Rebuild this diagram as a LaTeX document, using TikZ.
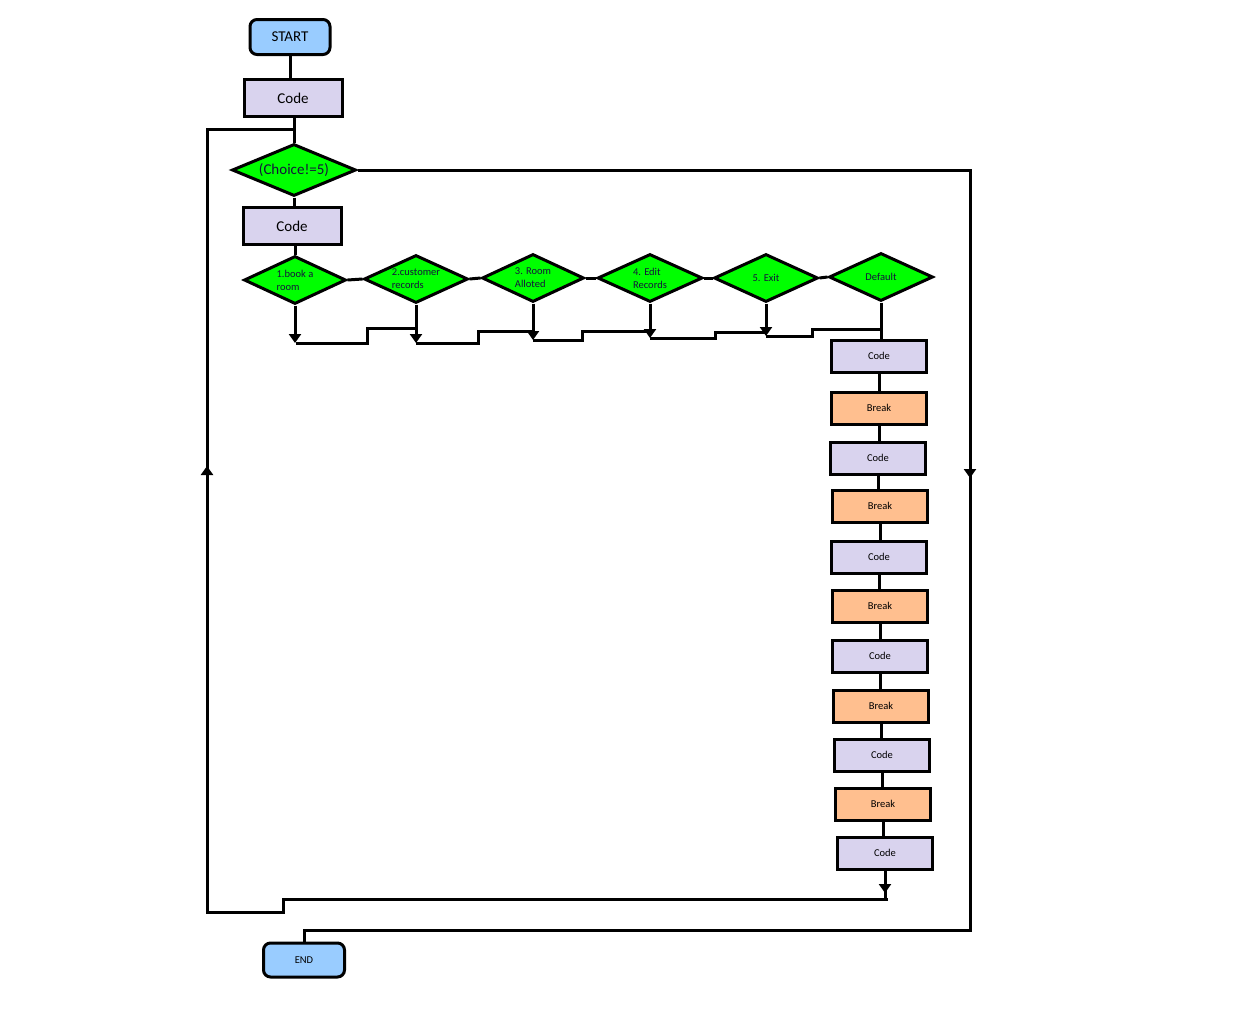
\documentclass[tikz,border=0pt]{standalone}
\usepackage{fontspec}
\setmainfont{Carlito}
\usetikzlibrary{shapes.geometric,arrows.meta}
\definecolor{termfill}{HTML}{99CCFF}
\definecolor{codefill}{HTML}{D9D3EE}
\definecolor{brkfill}{HTML}{FFBF8F}
\definecolor{decfill}{HTML}{00FF00}
\definecolor{dectext}{HTML}{14143C}
\tikzset{
  base/.style={draw=black, line width=3pt, inner sep=0pt, font=\fontsize{15}{16}\selectfont},
  term/.style={base, fill=termfill, rounded corners=7pt, minimum width=80pt, minimum height=35pt},
  codebox/.style={base, fill=codefill, minimum width=98pt, minimum height=37pt},
  smallcode/.style={base, fill=codefill, minimum width=95pt, minimum height=32pt, font=\fontsize{10.5}{12}\selectfont},
  brk/.style={smallcode, fill=brkfill},
  dec/.style={base, diamond, fill=decfill, aspect=2, align=left, text=dectext, font=\fontsize{10.5}{13}\selectfont},
  wire/.style={line width=3pt},
  tip/.style={-{Triangle[width=12pt,length=9pt]}}
}
\begin{document}
\begin{tikzpicture}[x=1pt,y=-1pt]
\useasboundingbox (0,0) rectangle (1253,1018);

% main sequence
\node[term] (start) at (290,37) {START};
\node[codebox] (code1) at (293,98) {Code};
\node[dec, minimum width=124pt, minimum height=52pt, font=\fontsize{15}{16}\selectfont] (choice) at (294,170) {(Choice!=5)};
\node[codebox] (code2) at (292,226) {Code};

% switch cases
\node[dec, minimum width=102pt, minimum height=48pt] (d1) at (295,280) {1.book a\\room};
\node[dec, minimum width=104pt, minimum height=48pt] (d2) at (416,279) {2.customer\\records};
\node[dec, minimum width=102pt, minimum height=48pt] (d3) at (533,278) {3. Room\\Alloted};
\node[dec, minimum width=105pt, minimum height=48pt] (d4) at (650,278) {4. Edit\\Records};
\node[dec, minimum width=104pt, minimum height=48pt] (d5) at (766,278) {5. Exit};
\node[dec, minimum width=104pt, minimum height=48pt] (d6) at (881,277) {Default};

% code / break column
\node[smallcode] (c1) at (879,356) {Code};
\node[brk] (b1) at (879,408) {Break};
\node[smallcode] (c2) at (878,458) {Code};
\node[brk] (b2) at (880,506) {Break};
\node[smallcode] (c3) at (879,557) {Code};
\node[brk] (b3) at (880,606) {Break};
\node[smallcode] (c4) at (880,656) {Code};
\node[brk] (b4) at (881,706) {Break};
\node[smallcode] (c5) at (882,755) {Code};
\node[brk] (b5) at (883,804) {Break};
\node[smallcode] (c6) at (885,853) {Code};

\node[term, minimum width=81pt, minimum height=34pt, font=\fontsize{10.5}{12}\selectfont] (stop) at (304,960) {END};

% junction points
\coordinate (j) at (294,129);
\coordinate (a1) at (296,343);
\coordinate (a2) at (416,343);
\coordinate (a3) at (533,340);
\coordinate (a4) at (650,338);
\coordinate (a5) at (766,336);
\coordinate (lp) at (888,899);

% top sequence
\draw[wire] (code1.north -| start.south) -- (start.south);
\draw[wire] (code1.south -| choice.north) -- (choice.north);
\draw[wire] (choice.south) -- (choice.south |- code2.north);
\draw[wire] (code2.south -| d1.north) -- (d1.north);

% row of cases
\draw[wire] (d1.east) -- (d2.west);
\draw[wire] (d2.east) -- (d3.west);
\draw[wire] (d3.east) -- (d4.west);
\draw[wire] (d4.east) -- (d5.west);
\draw[wire] (d5.east) -- (d6.west);

% case outlets
\draw[wire, tip] (d1.south) -- (d1.south |- a1);
\draw[wire, tip] (d2.south) -- (a2);
\draw[wire, tip] (d3.south) -- (a3);
\draw[wire, tip] (d4.south) -- (a4);
\draw[wire, tip] (d5.south) -- (a5);
\draw[wire] (d6.south) -- (d6.south |- c1.north);

% stepped collector line
\draw[wire] (a1) -- (367,343) -- (367,328) -- (a2 |- 0,328);
\draw[wire] (a2) -- (478,343) -- (478,331) -- (a3 |- 0,331);
\draw[wire] (a3) -- (582,340) -- (582,331) -- (a4 |- 0,331);
\draw[wire] (a4) -- (715,338) -- (715,332) -- (a5 |- 0,332);
\draw[wire] (a5) -- (812,336) -- (812,329) -- (d6.south |- 0,329);

% column links
\draw[wire] (c1.south) -- (c1.south |- b1.north);
\draw[wire] (b1.south) -- (b1.south |- c2.north);
\draw[wire] (c2.south) -- (c2.south |- b2.north);
\draw[wire] (b2.south) -- (b2.south |- c3.north);
\draw[wire] (c3.south) -- (c3.south |- b3.north);
\draw[wire] (b3.south) -- (b3.south |- c4.north);
\draw[wire] (c4.south) -- (c4.south |- b4.north);
\draw[wire] (b4.south) -- (b4.south |- c5.north);
\draw[wire] (c5.south) -- (c5.south |- b5.north);
\draw[wire] (b5.south) -- (b5.south |- c6.north);
\draw[wire, tip] (c6.south) -- (c6.south |- 0,893);
\draw[wire] (c6.south |- 0,889) -- (c6.south |- lp) -- (lp);

% loop back to the condition
\draw[wire] (lp) -- (283,899) -- (283,912) -- (207,912) -- (207,480);
\draw[wire, tip] (207,490) -- (207,466);
\draw[wire] (207,470) -- (207,129) -- (j);

% exit branch to END
\draw[wire] (choice.east) -- (970,170) -- (970,460);
\draw[wire, tip] (970,455) -- (970,478);
\draw[wire] (970,474) -- (970,930) -- (304,930) -- (stop.north);
\end{tikzpicture}
\end{document}
